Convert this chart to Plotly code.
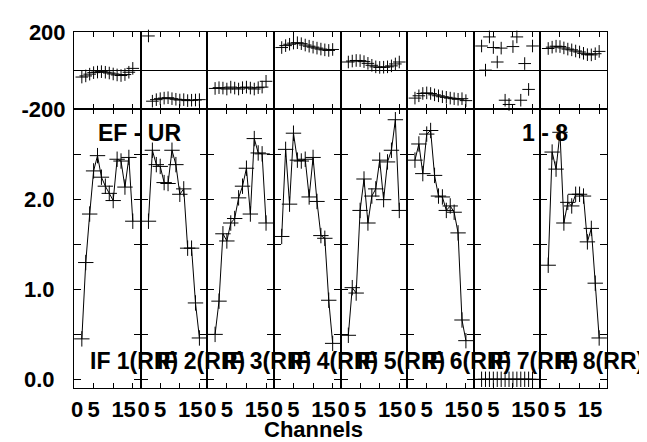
import plotly.graph_objects as go

# ---------------- data ----------------
channels = [2, 3, 4, 5, 6, 7, 8, 9, 10, 11, 12, 13, 14, 15]
if_labels = ["IF 1(RR)", "IF 2(RR)", "IF 3(RR)", "IF 4(RR)",
             "IF 5(RR)", "IF 6(RR)", "IF 7(RR)", "IF 8(RR)"]

amp_if1 = [0.45, 1.30, 1.84, 2.32, 2.49, 2.25, 2.15, 2.07, 1.99, 2.45, 2.43, 2.14, 2.47, 1.76]
amp_if2 = [1.76, 2.55, 2.39, 2.37, 2.19, 2.18, 2.55, 2.39, 2.06, 2.12, 1.46, 1.46, 0.85, 0.46]
amp_if3 = [0.50, 0.87, 1.62, 1.54, 1.74, 1.79, 2.02, 2.15, 2.35, 1.84, 2.68, 2.52, 2.51, 1.74]
amp_if4 = [1.59, 2.56, 1.95, 2.74, 2.44, 2.43, 2.45, 2.03, 2.47, 1.98, 1.60, 1.57, 0.88, 0.40]
amp_if5 = [0.49, 1.02, 0.96, 1.88, 2.23, 1.74, 2.04, 2.12, 2.44, 2.00, 2.42, 2.55, 2.89, 1.88]
amp_if6 = [2.44, 2.62, 2.29, 2.73, 2.77, 2.27, 2.04, 2.03, 1.88, 1.93, 1.86, 1.63, 0.66, 0.43]
amp_if7 = [0.0, 0.0, 0.0, 0.0, 0.0, 0.0, 0.0, 0.0, 0.0, 0.0, 0.0, 0.0, 0.0, 0.0]
amp_if8 = [1.27, 2.53, 2.34, 2.75, 1.74, 1.97, 1.93, 2.06, 2.06, 2.04, 1.53, 1.68, 1.07, 0.46]

pha_if1 = [-33, -27, -18, -10, -7, -5, -8, -12, -17, -22, -25, -20, -8, 12]
pha_if2 = [180, -158, -150, -145, -142, -140, -145, -148, -152, -150, -155, -153, -152, -150]
pha_if3 = [-92, -88, -90, -95, -85, -90, -95, -88, -85, -90, -95, -88, -85, -55]
pha_if4 = [120, 130, 137, 143, 145, 140, 133, 127, 122, 117, 112, 108, 105, 110]
pha_if5 = [45, 50, 53, 52, 47, 38, 28, 20, 17, 18, 20, 25, 35, 45]
pha_if6 = [-142, -130, -118, -115, -118, -125, -130, -135, -138, -142, -145, -148, -145, -155]
pha_if7 = [128, 3, 175, 120, 45, 117, -153, -175, 125, 175, -153, 37, -97, 128]
pha_if8 = [115, 122, 127, 125, 118, 112, 108, 102, 97, 90, 83, 82, 88, 100]

amp_ticks = [0.0, 0.5, 1.0, 1.5, 2.0, 2.5, 3.0]
amp_tick_text = ["0.0", "", "1.0", "", "2.0", "", ""]
pha_ticks = [-200, 200]
pha_tick_text = ["-200", "200"]
chan_ticks = [0, 5, 10, 15]
chan_tick_text = ["\u00a00", "5", "", "15\u00a0\u00a0\u00a0"]

amps = [amp_if1, amp_if2, amp_if3, amp_if4, amp_if5, amp_if6, amp_if7, amp_if8]
phas = [pha_if1, pha_if2, pha_if3, pha_if4, pha_if5, pha_if6, pha_if7, pha_if8]

# ---------------- figure ----------------
OFF = 8                      # browser body margin
W, H = 647 - OFF, 442 - OFF  # figure size so the page fits the window
PL, PR, PT, PB = 74, 607, 20, 388   # plot box in page pixels
ML = PL - OFF
MT = PT - OFF
MR = W - (PR - OFF)
MB = H - (PB - OFF)
plot_w = PR - PL
plot_h = PB - PT
split = (PB - 100) / plot_h
FONT = "Liberation Sans, Arial, sans-serif"
tfont = dict(family=FONT, size=22, color="black", weight="bold")


def px(xabs):
    return (xabs - PL) / plot_w


def py(yabs):
    return (PB - yabs) / plot_h


fig = go.Figure()
layout = {}
ncol = 8
for i in range(ncol):
    kp = i + 1
    ka = i + 1 + ncol
    xp = "x" if kp == 1 else f"x{kp}"
    yp = "y" if kp == 1 else f"y{kp}"
    xa = f"x{ka}"
    ya = f"y{ka}"
    dom = [i / ncol, (i + 1) / ncol]

    fig.add_trace(go.Scatter(
        x=channels, y=phas[i], mode="markers", xaxis=xp, yaxis=yp,
        marker=dict(symbol="cross-thin", size=9, color="black",
                    line=dict(width=1, color="black")),
        showlegend=False, cliponaxis=False))
    fig.add_trace(go.Scatter(
        x=channels, y=amps[i], mode="lines+markers", xaxis=xa, yaxis=ya,
        line=dict(color="black", width=1),
        marker=dict(symbol="cross-thin", size=11, color="black",
                    line=dict(width=1, color="black")),
        showlegend=False, cliponaxis=False))

    common_x = dict(range=[0, 17], domain=dom, tickvals=chan_ticks,
                    ticks="inside", ticklen=5, tickcolor="black",
                    mirror="allticks", showline=True, linecolor="black",
                    linewidth=1, showgrid=False, zeroline=False,
                    ticklabeloverflow="allow")
    layout["xaxis" if kp == 1 else f"xaxis{kp}"] = dict(
        common_x, anchor=yp, showticklabels=False)
    layout[f"xaxis{ka}"] = dict(
        common_x, anchor=ya, showticklabels=True, ticktext=chan_tick_text,
        tickfont=tfont, ticklabelstandoff=2)
    layout["yaxis" if kp == 1 else f"yaxis{kp}"] = dict(
        anchor=xp, domain=[split, 1], range=[-200.5, 200.5],
        tickvals=pha_ticks, ticktext=pha_tick_text, ticks="",
        showticklabels=(i == 0), tickfont=tfont, ticklabelstandoff=3,
        ticklabeloverflow="allow",
        zeroline=True, zerolinecolor="black", zerolinewidth=1,
        showline=True, mirror=True, linecolor="black", linewidth=1,
        showgrid=False)
    layout[f"yaxis{ka}"] = dict(
        anchor=xa, domain=[0, split], range=[-0.097, 3.005],
        tickvals=amp_ticks, ticktext=amp_tick_text, ticks="inside",
        ticklen=7, tickcolor="black", mirror="allticks",
        showticklabels=(i == 0), tickfont=tfont, ticklabelstandoff=14,
        ticklabeloverflow="allow",
        showline=True, linecolor="black", linewidth=1,
        showgrid=False, zeroline=False)

annots = []
afont = dict(family=FONT, size=23, color="black", weight="bold")
annots.append(dict(text="EF - UR", xref="paper", yref="paper",
                   x=px(139), y=py(124),
                   xanchor="center", yanchor="middle", showarrow=False, font=afont))
annots.append(dict(text="1 - 8", xref="paper", yref="paper",
                   x=px(545), y=py(124),
                   xanchor="center", yanchor="middle", showarrow=False, font=afont))
for i in range(ncol):
    annots.append(dict(text=if_labels[i], xref="paper", yref="paper",
                       x=px(PL + i * plot_w / ncol + 14), y=py(360),
                       xanchor="left", yanchor="middle", showarrow=False, font=afont))
annots.append(dict(text="Channels", xref="paper", yref="paper",
                   x=px(313.5), y=py(431),
                   xanchor="center", yanchor="middle", showarrow=False,
                   font=dict(family=FONT, size=22, color="black", weight="bold")))

fig.update_layout(
    width=W, height=H, margin=dict(l=ML, r=MR, t=MT, b=MB),
    paper_bgcolor="white", plot_bgcolor="white",
    font=dict(family=FONT, color="black"),
    annotations=annots, **layout)

fig.write_html("out.html")
